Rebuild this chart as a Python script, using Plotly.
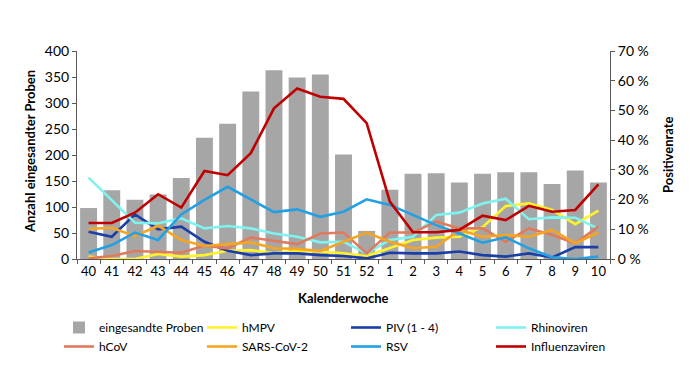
import plotly.graph_objects as go

weeks = ["40", "41", "42", "43", "44", "45", "46", "47", "48", "49", "50", "51", "52",
         "1", "2", "3", "4", "5", "6", "7", "8", "9", "10"]

proben = [98, 132, 114, 124, 156, 233, 260, 322, 363, 349, 355, 201, 54,
          133, 164, 165, 147, 164, 167, 167, 144, 170, 147]

# positive rates in percent
hmpv = [0.8, 0.0, 0.0, 1.7, 0.8, 1.3, 2.8, 3.0, 1.9, 2.7, 2.5, 1.9, 1.0,
        3.6, 6.4, 7.2, 7.5, 10.7, 17.8, 18.7, 16.5, 11.7, 16.3]
piv = [9.2, 7.5, 15.0, 10.0, 10.9, 5.8, 2.8, 1.3, 1.9, 1.9, 1.3, 1.0, 0.2,
       2.1, 1.9, 1.9, 2.5, 1.3, 0.8, 1.9, 0.5, 4.0, 4.0]
rhino = [27.4, 19.9, 12.2, 12.0, 13.7, 10.3, 11.1, 10.3, 8.6, 7.5, 5.6, 5.8, 1.9,
         6.4, 7.5, 14.8, 15.6, 18.7, 20.3, 13.4, 14.0, 13.9, 10.2]
hcov = [0.2, 1.0, 2.7, 2.5, 2.1, 4.5, 3.6, 7.2, 6.1, 5.0, 8.6, 8.9, 1.9,
        8.9, 8.9, 12.6, 10.3, 10.3, 5.8, 10.3, 8.1, 5.3, 10.9]
sars = [10.1, 10.5, 7.7, 11.2, 6.4, 4.4, 5.0, 5.6, 3.6, 3.4, 2.7, 5.8, 8.9,
        5.8, 3.6, 4.1, 9.8, 7.5, 8.1, 7.5, 9.8, 5.3, 8.9]
rsv = [2.2, 4.7, 8.9, 6.4, 15.0, 19.9, 24.3, 20.1, 15.8, 16.7, 14.2, 15.9, 20.1,
       18.2, 14.8, 11.4, 8.6, 5.5, 7.3, 3.6, 0.6, 0.0, 0.8]
influenza = [12.1, 12.1, 15.6, 21.8, 17.3, 29.6, 28.2, 35.6, 50.7, 57.4, 54.6, 53.9, 45.7,
             19.3, 9.0, 9.0, 9.8, 14.6, 13.1, 17.9, 15.9, 16.5, 25.1]

left_ticks = [0, 50, 100, 150, 200, 250, 300, 350, 400]
right_ticks = [0, 10, 20, 30, 40, 50, 60, 70]
right_labels = [f"{v} %" for v in right_ticks]

FONT = "Lato, 'Open Sans', Arial, sans-serif"
W, H = 690, 388
OFF = 8  # page body margin compensation

fig = go.Figure()
fig.add_trace(go.Bar(x=weeks, y=proben, name="eingesandte Proben",
                     marker=dict(color="#A6A6A6", line=dict(width=0)), yaxis="y",
                     legend="legend"))

series = [
    ("hMPV", hmpv, "#FFF22A", "legend2"),
    ("PIV (1 - 4)", piv, "#1B3FA6", "legend3"),
    ("Rhinoviren", rhino, "#7FF3F0", "legend4"),
    ("hCoV", hcov, "#E07A5C", "legend"),
    ("SARS-CoV-2", sars, "#F5A522", "legend2"),
    ("RSV", rsv, "#23A0E3", "legend3"),
    ("Influenzaviren", influenza, "#C00000", "legend4"),
]
for name, vals, col, lg in series:
    fig.add_trace(go.Scatter(x=weeks, y=vals, name=name, mode="lines",
                             line=dict(color=col, width=2.6), yaxis="y2", legend=lg))

text_x = [101, 244, 388, 533]


def leg(tx):
    return dict(orientation="v", xref="container", yref="container",
                x=(tx - 42 - OFF) / W, xanchor="left",
                y=1 - (313 - OFF) / H, yanchor="top", itemwidth=30,
                font=dict(size=12, family=FONT), tracegroupgap=0,
                bgcolor="rgba(0,0,0,0)", traceorder="normal")


axis_common = dict(showline=True, linecolor="#595959", linewidth=1, ticks="outside",
                   ticklen=4, tickcolor="#595959", showgrid=False, zeroline=False,
                   automargin=False)

fig.update_layout(
    width=W, height=H,
    margin=dict(l=77 - OFF, r=80 + OFF, t=51 - OFF, b=129 + OFF, autoexpand=False),
    paper_bgcolor="white", plot_bgcolor="white",
    font=dict(family=FONT, size=13, color="#000000"),
    bargap=0.27,
    showlegend=True,
    legend=leg(text_x[0]), legend2=leg(text_x[1]),
    legend3=leg(text_x[2]), legend4=leg(text_x[3]),
    xaxis=dict(type="category", tickson="boundaries", tickfont=dict(size=13),
               tickangle=0, **axis_common),
    yaxis=dict(range=[0, 400], tickvals=left_ticks, tickfont=dict(size=14), **axis_common),
    yaxis2=dict(range=[0, 70], overlaying="y", side="right", tickvals=right_ticks,
                ticktext=right_labels, tickfont=dict(size=14), **axis_common),
    annotations=[
        dict(text="<b>Kalenderwoche</b>", xref="paper", yref="paper",
             x=(343 - 77) / 533, y=(259 - 298) / 208, showarrow=False,
             xanchor="center", yanchor="middle", font=dict(size=13)),
        dict(text="<b>Anzahl eingesandter Proben</b>", xref="paper", yref="paper",
             x=(30 - 77) / 533, y=(259 - 152) / 208, showarrow=False, textangle=-90,
             xanchor="center", yanchor="middle", font=dict(size=13)),
        dict(text="<b>Positivenrate</b>", xref="paper", yref="paper",
             x=(668 - 77) / 533, y=(259 - 155) / 208, showarrow=False, textangle=-90,
             xanchor="center", yanchor="middle", font=dict(size=13)),
    ],
)

fig.write_html("out.html")
